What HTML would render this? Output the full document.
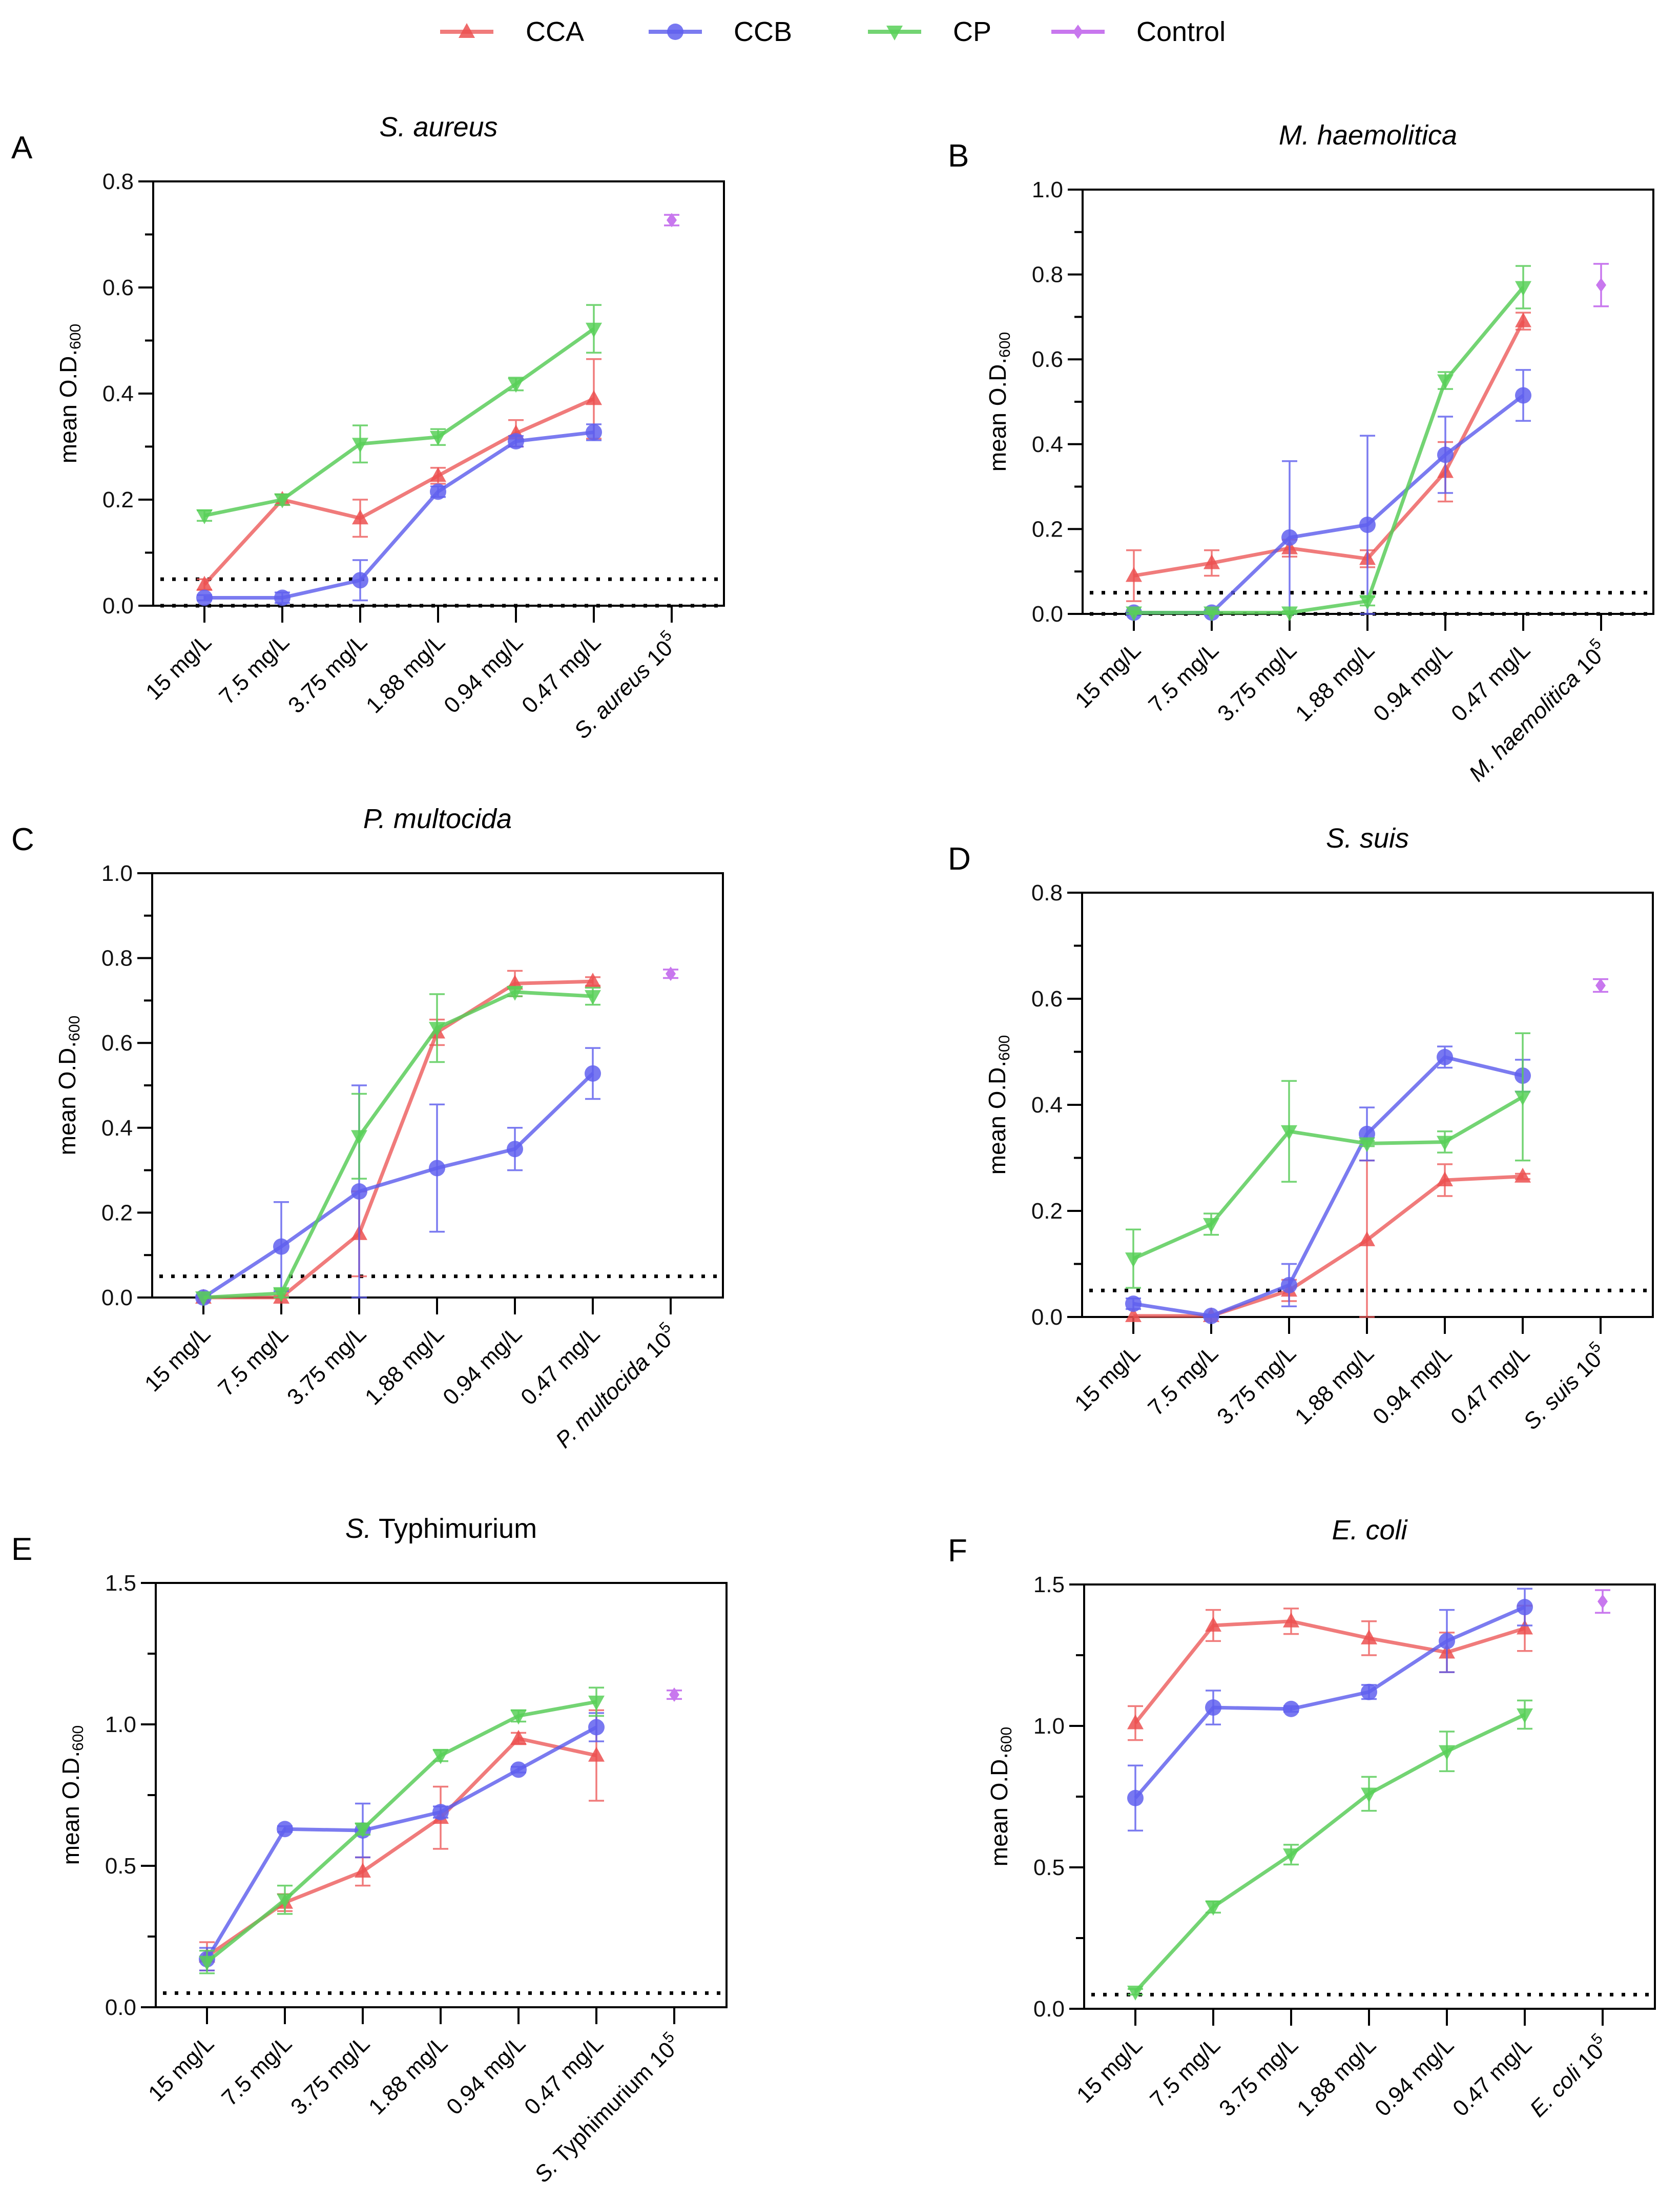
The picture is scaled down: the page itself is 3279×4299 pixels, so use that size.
<!DOCTYPE html>
<html><head><meta charset="utf-8"><style>
html,body{margin:0;padding:0;background:#fff}
svg{display:block;font-family:"Liberation Sans",sans-serif}
</style></head><body>
<svg id="fig" width="3279" height="4299" viewBox="0 0 3279 4299" xmlns="http://www.w3.org/2000/svg">
<g id="legend"></g>
</svg>
<script>
const categories = ["15 mg/L","7.5 mg/L","3.75 mg/L","1.88 mg/L","0.94 mg/L","0.47 mg/L"];
// Panel A - S. aureus
const A_CCA = [0.04,0.20,0.165,0.245,0.325,0.39];
const A_CCAerr = [0.01,0.01,0.035,0.015,0.025,0.075];
const A_CCB = [0.015,0.015,0.048,0.215,0.31,0.327];
const A_CCBerr = [0.005,0.01,0.038,0.01,0.01,0.015];
const A_CP = [0.17,0.20,0.305,0.318,0.418,0.522];
const A_CPerr = [0.01,0.01,0.035,0.015,0.012,0.045];
const A_CTRL = [0.727]; const A_CTRLerr = [0.01];
// Panel B - M. haemolitica
const B_CCA = [0.09,0.12,0.155,0.13,0.335,0.69];
const B_CCAerr = [0.06,0.03,0.02,0.02,0.07,0.02];
const B_CCB = [0.003,0.003,0.18,0.21,0.375,0.515];
const B_CCBerr = [0.003,0.003,0.18,0.21,0.09,0.06];
const B_CP = [0.003,0.003,0.003,0.03,0.55,0.77];
const B_CPerr = [0.003,0.003,0.003,0.01,0.02,0.05];
const B_CTRL = [0.775]; const B_CTRLerr = [0.05];
// Panel C - P. multocida
const C_CCA = [0,0,0.15,0.625,0.74,0.745];
const C_CCAerr = [0.005,0.005,0.10,0.03,0.03,0.01];
const C_CCB = [0,0.12,0.25,0.305,0.35,0.528];
const C_CCBerr = [0.005,0.105,0.25,0.15,0.05,0.06];
const C_CP = [0,0.01,0.38,0.635,0.72,0.71];
const C_CPerr = [0,0.01,0.10,0.08,0.01,0.02];
const C_CTRL = [0.763]; const C_CTRLerr = [0.01];
// Panel D - S. suis
const D_CCA = [0.002,0.002,0.05,0.145,0.258,0.265];
const D_CCAerr = [0,0,0.02,0.15,0.03,0.005];
const D_CCB = [0.025,0.002,0.06,0.345,0.49,0.455];
const D_CCBerr = [0.01,0.002,0.04,0.05,0.02,0.03];
const D_CP = [0.11,0.175,0.35,0.327,0.33,0.415];
const D_CPerr = [0.055,0.02,0.095,0.005,0.02,0.12];
const D_CTRL = [0.625]; const D_CTRLerr = [0.012];
// Panel E - S. Typhimurium
const E_CCA = [0.18,0.37,0.48,0.67,0.95,0.89];
const E_CCAerr = [0.05,0.03,0.05,0.11,0.02,0.16];
const E_CCB = [0.17,0.63,0.625,0.69,0.84,0.99];
const E_CCBerr = [0.04,0.01,0.095,0.02,0.01,0.05];
const E_CP = [0.16,0.38,0.63,0.89,1.03,1.08];
const E_CPerr = [0.04,0.05,0.02,0.02,0.02,0.05];
const E_CTRL = [1.105]; const E_CTRLerr = [0.015];
// Panel F - E. coli
const F_CCA = [1.01,1.355,1.37,1.31,1.26,1.345];
const F_CCAerr = [0.06,0.055,0.045,0.06,0.07,0.08];
const F_CCB = [0.745,1.065,1.06,1.12,1.30,1.42];
const F_CCBerr = [0.115,0.06,0.01,0.025,0.11,0.065];
const F_CP = [0.06,0.36,0.545,0.76,0.91,1.04];
const F_CPerr = [0.01,0.02,0.035,0.06,0.07,0.05];
const F_CTRL = [1.44]; const F_CTRLerr = [0.04];

const ticksA = ["0.0","0.2","0.4","0.6","0.8"];
const ticksB = ["0.0","0.2","0.4","0.6","0.8","1.0"];
const ticksE = ["0.0","0.5","1.0","1.5"];

const NS="http://www.w3.org/2000/svg";
const svg=document.getElementById('fig');
function el(tag,attrs,parent){const e=document.createElementNS(NS,tag);for(const k in attrs)e.setAttribute(k,attrs[k]);(parent||svg).appendChild(e);return e;}

const COL={CCA:{line:"rgba(236,90,90,0.8)",fill:"#ec5050"},CCB:{line:"rgba(90,90,236,0.8)",fill:"#6060ee"},CP:{line:"rgba(90,205,90,0.85)",fill:"#58d058"},Control:{line:"#c877ee",fill:"#c877ee"}};

function marker(g,type,x,y,name){
  const c=COL[type].fill; let m;
  if(type==="CCA") m=el('polygon',{points:`${x},${y-17} ${x-16},${y+12} ${x+16},${y+12}`,fill:c,'fill-opacity':0.85},g);
  else if(type==="CCB") m=el('circle',{cx:x,cy:y,r:16,fill:c,'fill-opacity':0.85},g);
  else if(type==="CP") m=el('polygon',{points:`${x},${y+17} ${x-16},${y-12} ${x+16},${y-12}`,fill:c,'fill-opacity':0.85},g);
  else m=el('polygon',{points:`${x},${y-14} ${x-10},${y} ${x},${y+14} ${x+10},${y}`,fill:c},g);
  
  
  return m;
}

const panels=[
 {id:"A",lx:299,top:354,ymax:0.8,ticks:ticksA,zeroDots:true,title:"<tspan font-style='italic'>S. aureus</tspan>",ctrl:"S. aureus",data:{CCA:[A_CCA,A_CCAerr],CCB:[A_CCB,A_CCBerr],CP:[A_CP,A_CPerr],Control:[A_CTRL,A_CTRLerr]}},
 {id:"B",lx:2113,top:370,ymax:1.0,ticks:ticksB,zeroDots:true,title:"<tspan font-style='italic'>M. haemolitica</tspan>",ctrl:"M. haemolitica",data:{CCA:[B_CCA,B_CCAerr],CCB:[B_CCB,B_CCBerr],CP:[B_CP,B_CPerr],Control:[B_CTRL,B_CTRLerr]}},
 {id:"C",lx:297,top:1704,ymax:1.0,ticks:ticksB,zeroDots:false,title:"<tspan font-style='italic'>P. multocida</tspan>",ctrl:"P. multocida",data:{CCA:[C_CCA,C_CCAerr],CCB:[C_CCB,C_CCBerr],CP:[C_CP,C_CPerr],Control:[C_CTRL,C_CTRLerr]}},
 {id:"D",lx:2112,top:1742,ymax:0.8,ticks:ticksA,zeroDots:false,title:"<tspan font-style='italic'>S. suis</tspan>",ctrl:"S. suis",data:{CCA:[D_CCA,D_CCAerr],CCB:[D_CCB,D_CCBerr],CP:[D_CP,D_CPerr],Control:[D_CTRL,D_CTRLerr]}},
 {id:"E",lx:304,top:3089,ymax:1.5,ticks:ticksE,zeroDots:false,title:"<tspan font-style='italic'>S.</tspan> Typhimurium",ctrl:"S.",ctrlRest:" Typhimurium",data:{CCA:[E_CCA,E_CCAerr],CCB:[E_CCB,E_CCBerr],CP:[E_CP,E_CPerr],Control:[E_CTRL,E_CTRLerr]}},
 {id:"F",lx:2116,top:3092,ymax:1.5,ticks:ticksE,zeroDots:false,title:"<tspan font-style='italic'>E. coli</tspan>",ctrl:"E. coli",data:{CCA:[F_CCA,F_CCAerr],CCB:[F_CCB,F_CCBerr],CP:[F_CP,F_CPerr],Control:[F_CTRL,F_CTRLerr]}}
];
const W=1114,H=828;

panels.forEach(p=>{
  const g=el('g',{});
  
  
  const L=p.lx,T=p.top,R=L+W,B=T+H;
  const yS=v=>B-v/p.ymax*H;
  const xS=i=>L+100+i*152;
  const lt=el('text',{x:p.lx<1000?22:1850,y:T-45,'font-size':62,fill:'#000'},g);
  lt.textContent=p.id;
  
  
  const tt=el('text',{x:L+W/2,y:T-88,'font-size':54,'text-anchor':'middle',fill:'#000'},g);
  tt.innerHTML=p.title;
  
  
  const fr=el('rect',{x:L,y:T,width:W,height:H,fill:'none',stroke:'#000','stroke-width':4},g);
  
  
  const n=p.ticks.length-1;
  for(let k=0;k<=n*2;k++){
    const v=k/(2*n)*p.ymax; const y=yS(v); const major=k%2===0;
    el('line',{x1:L-(major?29:16),x2:L,y1:y,y2:y,stroke:'#000','stroke-width':4},g);
    if(major){
      const t=el('text',{x:L-38,y:y+15,'font-size':44,'text-anchor':'end',fill:'#111'},g);
      t.textContent=p.ticks[k/2];
      
      
    }
  }
  const yt=el('text',{x:0,y:0,'font-size':46,'text-anchor':'middle',fill:'#000',transform:`translate(${L-150},${T+H/2}) rotate(-90)`},g);
  yt.innerHTML='mean O.D.<tspan font-size="30" dy="8">600</tspan>';
  
  
  const labels=categories.concat(['ctrl']);
  labels.forEach((c,i)=>{
    const x=xS(i);
    el('line',{x1:x,x2:x,y1:B,y2:B+33,stroke:'#000','stroke-width':4},g);
    const t=el('text',{x:0,y:0,'font-size':44,'text-anchor':'end',fill:'#000',transform:`translate(${x+16},${B+74}) rotate(-45)`},g);
    if(c==='ctrl'){
      t.innerHTML=`<tspan font-style="italic">${p.ctrl}</tspan>${p.ctrlRest||''} 10<tspan font-size="30" dy="-20">5</tspan>`;
    } else t.textContent=c;
    
    
  });
  const d1=el('line',{x1:L+14,x2:R-10,y1:yS(0.05),y2:yS(0.05),stroke:'#000','stroke-width':7,'stroke-dasharray':'7 16'},g);
  
  
  if(p.zeroDots){
    const d0=el('line',{x1:L+14,x2:R-10,y1:B,y2:B,stroke:'#000','stroke-width':7,'stroke-dasharray':'7 16'},g);
    
    
  }
  ["CCA","CCB","CP","Control"].forEach(s=>{
    const [vals,errs]=p.data[s];
    const sg=el('g',{},g);
    
    
    const xi=i=>s==="Control"?xS(6):xS(i);
    if(s!=="Control"){
      const pts=vals.map((v,i)=>xi(i)+','+yS(v)).join(' ');
      const pl=el('polyline',{points:pts,fill:'none',stroke:COL[s].line,'stroke-width':7,'stroke-linejoin':'round'},sg);
      
      
    }
    vals.forEach((v,i)=>{
      const x=xi(i),e=errs[i];
      if(e>0){
        const y1=yS(v+e),y2=yS(Math.max(0,v-e));
        const eb=el('path',{d:`M${x},${y1}V${y2}M${x-15},${y1}H${x+15}M${x-15},${y2}H${x+15}`,stroke:COL[s].line,'stroke-width':3.5,fill:'none'},sg);
        
        
      }
      marker(sg,s,x,yS(v),'point-'+s.toLowerCase());
    });
  });
});

const lg=document.getElementById('legend');
[["CCA",859,1026],["CCB",1266,1432],["CP",1694,1860],["Control",2052,2218]].forEach(([s,x,tx])=>{
  const g=el('g',{},lg);
  
  
  el('line',{x1:x,x2:x+104,y1:62,y2:62,stroke:COL[s].line,'stroke-width':8},g);
  marker(g,s,x+52,62,'legend-marker');
  const t=el('text',{x:tx,y:80,'font-size':54,fill:'#000'},g);
  t.textContent=s;
  
  
});
</script>
</body></html>
